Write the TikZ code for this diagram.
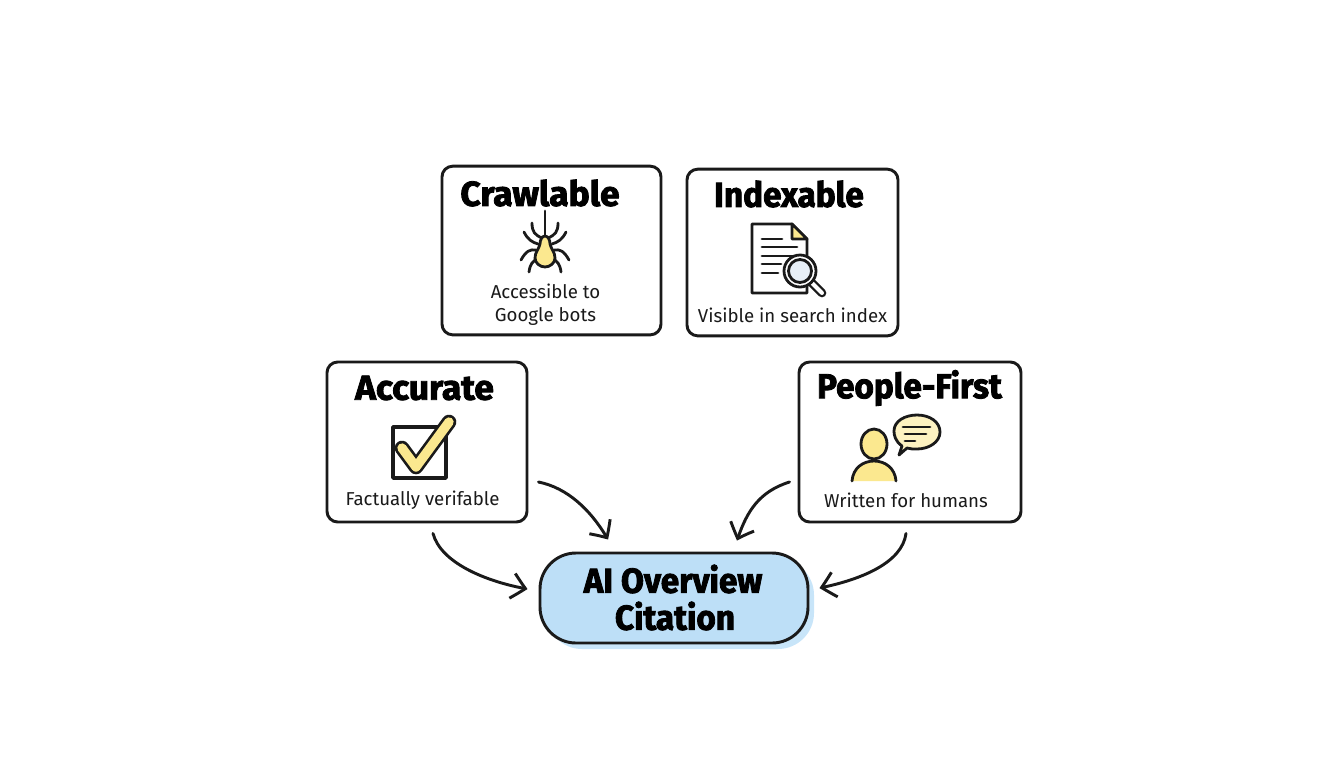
\documentclass[tikz,border=0pt]{standalone}
\usepackage{fontspec}
\setmainfont{Fira Sans}
\newfontfamily\ttl[BoldFeatures={FakeBold=2.4,FakeStretch=1.02}]{Fira Sans}
\newfontfamily\ttlb[BoldFeatures={FakeBold=2.4,FakeStretch=0.96}]{Fira Sans}
\usetikzlibrary{arrows.meta,bending}
\definecolor{ink}{HTML}{1A1A1A}
\definecolor{ylw}{HTML}{FBE88F}
\definecolor{skyb}{HTML}{BDDFF7}
\definecolor{skys}{HTML}{C8E5F9}
\definecolor{lens}{HTML}{E8F0F8}
\tikzset{
  card/.style={draw=ink,line width=2.2pt,rounded corners=8pt,fill=white,inner sep=0pt},
  ttlnode/.style={font=\ttl\bfseries\fontsize{26}{28}\selectfont,text=black,inner sep=0pt},
  ttlnarrow/.style={font=\ttlb\bfseries\fontsize{26}{28}\selectfont,text=black,inner sep=0pt},
  subnode/.style={font=\fontsize{14}{17.25}\selectfont,text=ink,inner sep=0pt,align=center},
  conn/.style={draw=ink,line width=2.2pt,line cap=round,-{Straight Barb[length=10pt,width=19pt,line width=2.2pt,bend]}},
  icon/.style={draw=ink,line width=2.1pt,line cap=round,line join=round},
}
\begin{document}
\begin{tikzpicture}[x=0.75pt,y=-0.75pt]
\useasboundingbox (0,0) rectangle (1344,768);
% cards
\node[card,minimum width=164.25pt,minimum height=126.5pt] (crawl) at (551.5,250.5) {};
\node[card,minimum width=158.25pt,minimum height=125pt] (index) at (792.5,252.5) {};
\node[card,minimum width=150pt,minimum height=120pt] (acc) at (427,442) {};
\node[card,minimum width=166.5pt,minimum height=120pt] (ppl) at (910,442) {};
% citation
\fill[skys,rounded corners=27pt] (546,559) rectangle (814,649);
\node[draw=ink,line width=2.2pt,fill=skyb,rounded corners=27pt,inner sep=0pt,minimum width=201pt,minimum height=67.5pt] (cite) at (674,598) {};
% titles
\node[ttlnode] (t1) at (540,193) {Crawlable};
\node[ttlnarrow] (t2) at (789,194) {Indexable};
\node[ttlnode] (t3) at (424.5,388) {Accurate};
\node[ttlnarrow] (t4) at (909.5,388) {People-First};
\node[ttlnarrow] (t5) at (673,579) {AI Overview};
\node[ttlnarrow] (t6) at (675,616) {Citation};
% subtitles
\node[subnode] (s1) at (545.5,304.5) {Accessible to\\Google bots};
\node[subnode] (s2) at (792.5,315) {Visible in search index};
\node[subnode] (s3) at (422.5,500.5) {Factually verifable};
\node[subnode] (s4) at (906,500) {Written for humans};
% spider
\draw[icon] (545,211) -- (545,237);
\foreach \s in {1,-1}{
  \begin{scope}[shift={(545,0)},xscale=\s]
  \draw[icon] (3,238) .. controls (10,235) and (13,232) .. (13,223);
  \draw[icon] (7,244) .. controls (13,242) and (17,240) .. (21,232);
  \draw[icon] (9,250) .. controls (15,249) and (19,251) .. (24,260);
  \draw[icon] (8,259) .. controls (12,261) and (15,264) .. (16,272);
  \end{scope}
}
\filldraw[icon,fill=ylw] (545,236) .. controls (548,236) and (550,240) .. (550,244)
  .. controls (551,249) and (555,252) .. (555,258) .. controls (555,263) and (550,267) .. (545,267)
  .. controls (540,267) and (535,263) .. (535,258) .. controls (535,252) and (539,249) .. (540,244)
  .. controls (540,240) and (542,236) .. (545,236) -- cycle;
% document
\filldraw[icon,fill=white] (752,224) -- (792,224) -- (807,239) -- (807,293) -- (752,293) -- cycle;
\filldraw[icon,fill=ylw] (792,224) -- (807,239) -- (792,239) -- cycle;
\foreach \yy/\xx in {239/782,247/797,256/797,264/781,273/778}{\draw[icon] (762,\yy) -- (\xx,\yy);}
\draw[ink,line width=6.5pt,line cap=round] (812,283) -- (822,293);
\draw[white,line width=3pt,line cap=round] (812,283) -- (822,293);
\filldraw[icon,fill=white] (800,271) circle[radius=16];
\filldraw[icon,fill=lens] (800,271) circle[radius=11.5];
% check box
\draw[icon,line width=2.6pt,fill=white] (393,427) rectangle (446,478);
\draw[ink,line width=11pt,line cap=round,line join=round] (402,448) -- (416,467) -- (449,422);
\draw[ylw,line width=7pt,line cap=round,line join=round] (402,448) -- (416,467) -- (449,422);
% person
\filldraw[icon,fill=ylw] (874,444) ellipse[x radius=13,y radius=15];
\fill[ylw] (852,481) .. controls (853,468) and (863,461) .. (874,461) .. controls (885,461) and (895,468) .. (896,481) -- cycle;
\draw[icon] (852,481) .. controls (853,468) and (863,461) .. (874,461) .. controls (885,461) and (895,468) .. (896,481);
% speech bubble
\filldraw[icon,fill=ylw!55] (902,446) .. controls (895,441) and (894,435) .. (894,431)
  .. controls (894,421) and (905,415) .. (917,415)
  .. controls (930,415) and (940,422) .. (940,432)
  .. controls (940,442) and (929,449) .. (917,449)
  .. controls (913,449) and (910,449) .. (907,448) -- (899,455) -- cycle;
\draw[icon] (903,427) -- (930,427);
\draw[icon] (905,434) -- (926,434);
\draw[icon] (905,441) -- (915,441);
% connectors
\draw[conn] ([shift={(6,10)}]acc.south) .. controls +(8,30) and +(-40,-7) .. ([shift={(-11,-9)}]cite.west);
\draw[conn] ([shift={(10,40)}]acc.east) .. controls +(30,6) and +(-16,-28) .. ([shift={(-66,-12)}]cite.north);
\draw[conn] ([shift={(-8,40)}]ppl.west) .. controls +(-32,10) and +(9,-27) .. ([shift={(63,-11)}]cite.north);
\draw[conn] ([shift={(-4,10)}]ppl.south) .. controls +(-4,30) and +(40,-8) .. ([shift={(10,-10)}]cite.east);
\end{tikzpicture}
\end{document}
